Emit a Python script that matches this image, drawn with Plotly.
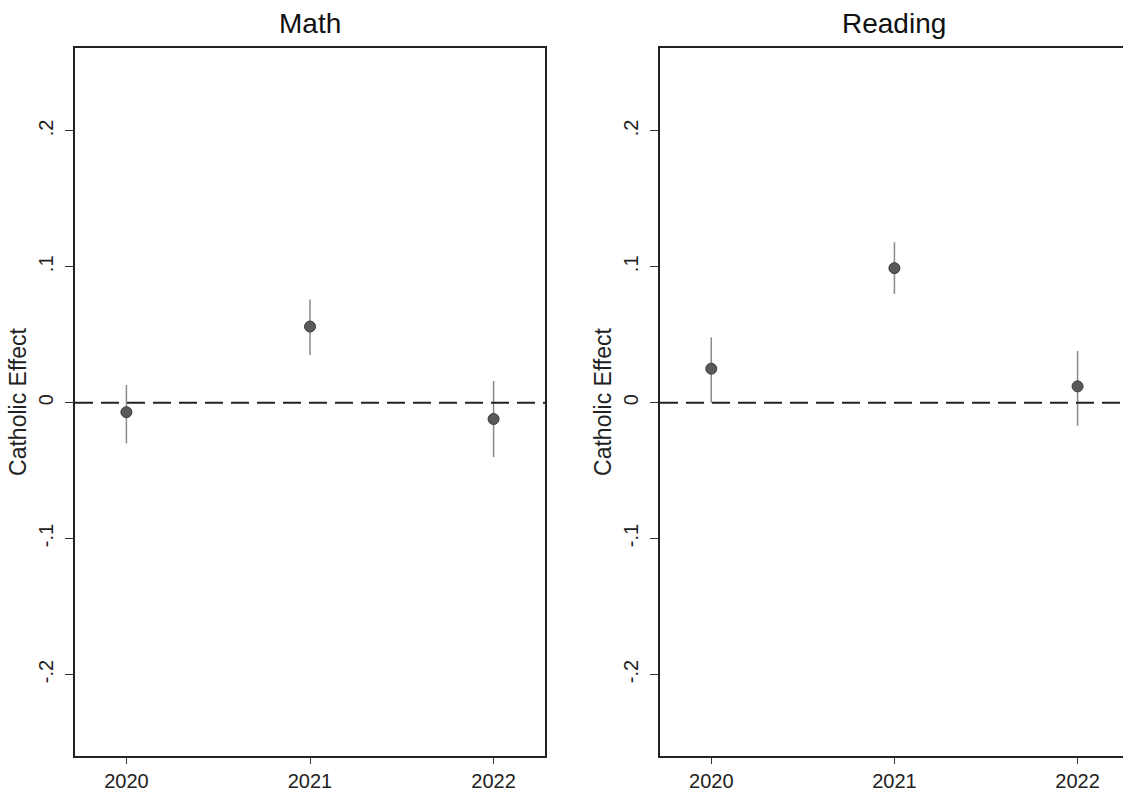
import plotly.graph_objects as go

years = [2020, 2021, 2022]
math_est = [-0.007, 0.056, -0.012]
math_hi = [0.013, 0.076, 0.016]
math_lo = [-0.030, 0.035, -0.040]
read_est = [0.025, 0.099, 0.012]
read_hi = [0.048, 0.118, 0.038]
read_lo = [0.000, 0.080, -0.017]
panels = ["Math", "Reading"]
ytick_vals = [-0.2, -0.1, 0, 0.1, 0.2]
ytick_text = ["-.2", "-.1", "0", ".1", ".2"]

fig = go.Figure()
FONT = "Liberation Sans, Arial, sans-serif"

for i, (est, hi, lo) in enumerate([(math_est, math_hi, math_lo), (read_est, read_hi, read_lo)]):
    ax = "" if i == 0 else "2"
    fig.add_trace(go.Scatter(
        x=years, y=est, mode="markers", xaxis="x" + ax, yaxis="y" + ax,
        marker=dict(size=11, color="#5a5a5a", line=dict(color="#3a3a3a", width=1)),
        error_y=dict(type="data", symmetric=False,
                     array=[h - e for h, e in zip(hi, est)],
                     arrayminus=[e - l for e, l in zip(est, lo)],
                     width=0, thickness=1.5, color="#8a8a8a"),
        showlegend=False))
    fig.add_shape(type="line", xref="x" + ax + " domain", yref="y" + ax,
                  x0=0, x1=1, y0=0, y1=0,
                  line=dict(color="#222222", width=2, dash="18px,8px"))

W, H = 1123, 791
ml, mr, mt, mb = 75, 0, 48, 35
pw = W - ml - mr
d1 = [0, (545 - ml) / pw]
d2 = [(660 - ml) / pw, 1.0]

xcommon = dict(range=[2019.72, 2022.28], tickvals=years, ticktext=[str(y) for y in years],
               ticks="outside", ticklen=6, tickcolor="#333", showgrid=False, zeroline=False,
               showline=True, linecolor="#222", linewidth=2, automargin=False,
               tickfont=dict(family=FONT, size=20, color="#222"))
ycommon = dict(range=[-0.26, 0.261], tickvals=ytick_vals, ticktext=ytick_text,
               tickangle=-90, ticks="outside", ticklen=8, tickcolor="#333",
               ticklabelstandoff=4,
               showgrid=False, zeroline=False, showline=True, linecolor="#222", linewidth=2,
               automargin=False,
               tickfont=dict(family=FONT, size=20, color="#222"),
               title=dict(text="Catholic Effect", font=dict(family=FONT, size=23, color="#222"), standoff=2))

fig.update_layout(
    width=W, height=H, margin=dict(l=ml, r=mr, t=mt, b=mb),
    paper_bgcolor="white", plot_bgcolor="white",
    xaxis=dict(domain=d1, anchor="y", mirror=True, **xcommon),
    yaxis=dict(domain=[0, 1], anchor="x", mirror=True, **ycommon),
    xaxis2=dict(domain=d2, anchor="y2", mirror=True, **{**xcommon, "range": [2019.72, 2022.248]}),
    yaxis2=dict(domain=[0, 1], anchor="x2", mirror=False, **ycommon),
)

for i, name in enumerate(panels):
    ax = "" if i == 0 else "2"
    fig.add_annotation(text=name, x=2021, xref="x" + ax, y=1, yref="paper",
                       yshift=7, yanchor="bottom", showarrow=False,
                       font=dict(family=FONT, size=28, color="#111"))

fig.write_html("out.html", config={"displayModeBar": False},
               post_script="document.body.style.margin='0';document.body.style.overflow='hidden';")
